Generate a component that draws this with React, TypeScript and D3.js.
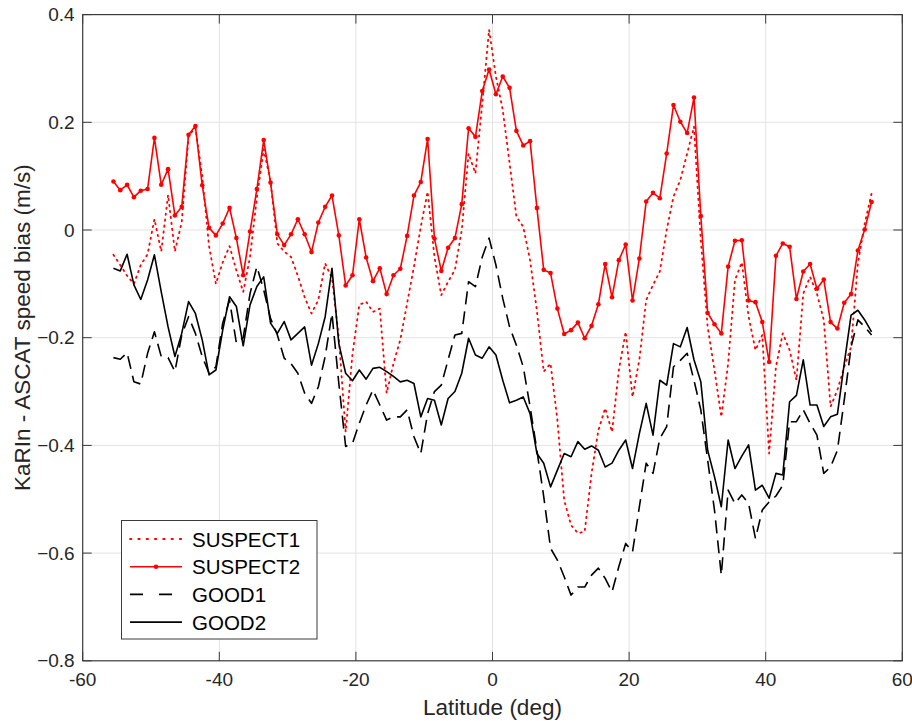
import React from 'react'
import * as d3 from 'd3'

// latitude bins (deg)
const lat = [
  -55.5, -54.5, -53.5, -52.5, -51.5, -50.5, -49.5, -48.5, -47.5, -46.5,
  -45.5, -44.5, -43.5, -42.5, -41.5, -40.5, -39.5, -38.5, -37.5, -36.5,
  -35.5, -34.5, -33.5, -32.5, -31.5, -30.5, -29.5, -28.5, -27.5, -26.5,
  -25.5, -24.5, -23.5, -22.5, -21.5, -20.5, -19.5, -18.5, -17.5, -16.5,
  -15.5, -14.5, -13.5, -12.5, -11.5, -10.5, -9.5, -8.5, -7.5, -6.5,
  -5.5, -4.5, -3.5, -2.5, -1.5, -0.5, 0.5, 1.5, 2.5, 3.5,
  4.5, 5.5, 6.5, 7.5, 8.5, 9.5, 10.5, 11.5, 12.5, 13.5,
  14.5, 15.5, 16.5, 17.5, 18.5, 19.5, 20.5, 21.5, 22.5, 23.5,
  24.5, 25.5, 26.5, 27.5, 28.5, 29.5, 30.5, 31.5, 32.5, 33.5,
  34.5, 35.5, 36.5, 37.5, 38.5, 39.5, 40.5, 41.5, 42.5, 43.5,
  44.5, 45.5, 46.5, 47.5, 48.5, 49.5, 50.5, 51.5, 52.5, 53.5,
  54.5, 55.5
]

const suspect1 = [
  -0.046, -0.065, -0.085, -0.1, -0.065, -0.045, 0.02, -0.04, 0.065, -0.04,
  0.015, 0.175, 0.19, 0.1, -0.03, -0.1, -0.06, -0.03, -0.075, -0.115,
  -0.05, 0.06, 0.15, 0.09, -0.025, -0.04, -0.05, -0.085, -0.125, -0.155,
  -0.13, -0.062, -0.09, -0.2, -0.375, -0.23, -0.139, -0.133, -0.152, -0.146,
  -0.303, -0.248, -0.204, -0.136, -0.068, 0.006, 0.071, -0.05, -0.121, -0.096,
  -0.074, 0.0, 0.142, 0.105, 0.235, 0.372, 0.285, 0.223, 0.124, 0.025,
  0.006, -0.056, -0.15, -0.263, -0.248, -0.353, -0.502, -0.548, -0.563, -0.56,
  -0.452, -0.372, -0.331, -0.375, -0.26, -0.189, -0.31, -0.241, -0.13, -0.102,
  -0.077, 0.0, 0.062, 0.093, 0.142, 0.192, -0.019, -0.18, -0.26, -0.347,
  -0.248, -0.093, -0.06, -0.161, -0.223, -0.195, -0.415, -0.254, -0.192, -0.223,
  -0.279, -0.118, -0.087, -0.118, -0.167, -0.328, -0.297, -0.254, -0.217, -0.062,
  0.012, 0.068
]

const suspect2 = [
  0.09, 0.074, 0.084, 0.061, 0.073, 0.076, 0.171, 0.084, 0.113, 0.027,
  0.043, 0.177, 0.193, 0.083, 0.004, -0.01, 0.012, 0.041, -0.015, -0.084,
  -0.003, 0.076, 0.167, 0.088, -0.008, -0.028, -0.008, 0.02, -0.008, -0.041,
  0.014, 0.043, 0.064, -0.01, -0.103, -0.084, 0.02, -0.051, -0.095, -0.071,
  -0.119, -0.084, -0.072, -0.011, 0.064, 0.089, 0.169, -0.016, -0.076, -0.033,
  -0.015, 0.048, 0.189, 0.173, 0.258, 0.298, 0.252, 0.285, 0.264, 0.184,
  0.157, 0.165, 0.041, -0.074, -0.08, -0.146, -0.193, -0.186, -0.172, -0.201,
  -0.178, -0.138, -0.063, -0.125, -0.056, -0.027, -0.131, -0.053, 0.053, 0.069,
  0.059, 0.142, 0.232, 0.201, 0.18, 0.246, 0.026, -0.154, -0.175, -0.192,
  -0.068, -0.02, -0.019, -0.131, -0.134, -0.171, -0.245, -0.048, -0.025, -0.031,
  -0.128, -0.077, -0.063, -0.109, -0.092, -0.171, -0.183, -0.135, -0.119, -0.038,
  0.001, 0.052
]

const good1 = [
  -0.237, -0.24, -0.228, -0.282, -0.286, -0.229, -0.189, -0.235, -0.237, -0.263,
  -0.195, -0.161, -0.192, -0.235, -0.266, -0.254, -0.173, -0.13, -0.21, -0.2,
  -0.118, -0.068, -0.111, -0.164, -0.195, -0.238, -0.248, -0.266, -0.303, -0.322,
  -0.291, -0.235, -0.155, -0.285, -0.402, -0.396, -0.359, -0.325, -0.297, -0.325,
  -0.353, -0.347, -0.347, -0.334, -0.384, -0.415, -0.341, -0.3, -0.288, -0.241,
  -0.195, -0.192, -0.096, -0.105, -0.05, -0.015, -0.065, -0.127, -0.18, -0.214,
  -0.254, -0.328, -0.409, -0.495, -0.591, -0.613, -0.644, -0.678, -0.663, -0.663,
  -0.641, -0.628, -0.647, -0.672, -0.625, -0.582, -0.598, -0.514, -0.433, -0.452,
  -0.387, -0.365, -0.254, -0.242, -0.229, -0.279, -0.334, -0.427, -0.52, -0.641,
  -0.483, -0.508, -0.492, -0.508, -0.573, -0.52, -0.505, -0.494, -0.474, -0.356,
  -0.356, -0.334, -0.359, -0.381, -0.452, -0.44, -0.409, -0.316, -0.217, -0.167,
  -0.18, -0.195
]

const good2 = [
  -0.071, -0.076, -0.045, -0.102, -0.129, -0.093, -0.046, -0.115, -0.18, -0.235,
  -0.192, -0.133, -0.155, -0.204, -0.269, -0.26, -0.186, -0.124, -0.142, -0.215,
  -0.139, -0.105, -0.087, -0.173, -0.192, -0.17, -0.204, -0.192, -0.18, -0.251,
  -0.211, -0.161, -0.071, -0.211, -0.266, -0.28, -0.26, -0.277, -0.257, -0.255,
  -0.263, -0.272, -0.282, -0.279, -0.285, -0.347, -0.313, -0.316, -0.362, -0.313,
  -0.3, -0.266, -0.201, -0.232, -0.238, -0.217, -0.232, -0.279, -0.321, -0.316,
  -0.31, -0.341, -0.415, -0.433, -0.477, -0.446, -0.415, -0.421, -0.393, -0.407,
  -0.401, -0.409, -0.44, -0.433, -0.409, -0.39, -0.443, -0.378, -0.322, -0.381,
  -0.279, -0.288, -0.211, -0.217, -0.181, -0.241, -0.282, -0.409, -0.458, -0.514,
  -0.39, -0.443, -0.42, -0.399, -0.483, -0.474, -0.498, -0.452, -0.455, -0.319,
  -0.307, -0.241, -0.325, -0.325, -0.365, -0.347, -0.342, -0.248, -0.158, -0.149,
  -0.167, -0.189
]

const xTicks = [-60, -40, -20, 0, 20, 40, 60]
const yTicks = [-0.8, -0.6, -0.4, -0.2, 0, 0.2, 0.4]
const legendNames = ['SUSPECT1', 'SUSPECT2', 'GOOD1', 'GOOD2']

const W = 912
const H = 721
const left = 82.7
const right = 902.3
const top = 14.6
const bottom = 660.8
const font = '"Liberation Sans", Arial, Helvetica, sans-serif'
const axisColor = '#3a3a3a'

export default function App() {
  const x = d3.scaleLinear().domain([-60, 60]).range([left, right])
  const y = d3.scaleLinear().domain([-0.8, 0.4]).range([bottom, top])

  const line = (vals: number[]) =>
    d3
      .line<number>()
      .x((d, i) => x(lat[i]))
      .y(d => y(d))(vals) || ''

  const styles = [
    { stroke: 'red', dash: '1.4,4.6', cap: 'round', w: 1.8 },
    { stroke: 'red', dash: '', cap: 'butt', w: 1.6 },
    { stroke: 'black', dash: '13,7', cap: 'butt', w: 1.6 },
    { stroke: 'black', dash: '', cap: 'butt', w: 1.6 }
  ]
  const series = [suspect1, suspect2, good1, good2]

  const lg = { x: 121.5, y: 520.5, w: 195.5, h: 118.5 }
  const tick = 9

  return (
    <svg
      width={W}
      height={H}
      style={{ position: 'absolute', left: 0, top: 0, background: 'white' }}
      fontFamily={font}
    >
      <rect x={0} y={0} width={W} height={H} fill="white" />
      {/* grid */}
      {xTicks.slice(1, -1).map(t => (
        <line key={'gx' + t} x1={x(t)} x2={x(t)} y1={top} y2={bottom} stroke="#e3e3e3" strokeWidth={1} />
      ))}
      {yTicks.slice(1, -1).map(t => (
        <line key={'gy' + t} x1={left} x2={right} y1={y(t)} y2={y(t)} stroke="#e3e3e3" strokeWidth={1} />
      ))}

      {/* data */}
      {series.map((s, k) => (
        <path
          key={'s' + k}
          d={line(s)}
          fill="none"
          stroke={styles[k].stroke}
          strokeWidth={styles[k].w}
          strokeDasharray={styles[k].dash || undefined}
          strokeLinecap={styles[k].cap as any}
          strokeLinejoin="round"
        />
      ))}
      {suspect2.map((v, i) => (
        <circle key={'m' + i} cx={x(lat[i])} cy={y(v)} r={2.3} fill="red" />
      ))}

      {/* box + ticks */}
      <rect x={left} y={top} width={right - left} height={bottom - top} fill="none" stroke={axisColor} strokeWidth={1.2} />
      {xTicks.map(t => (
        <g key={'tx' + t}>
          <line x1={x(t)} x2={x(t)} y1={bottom} y2={bottom - tick} stroke={axisColor} />
          <line x1={x(t)} x2={x(t)} y1={top} y2={top + tick} stroke={axisColor} />
          <text x={x(t)} y={bottom + 25} textAnchor="middle" fontSize={19} fill="#262626">
            {t}
          </text>
        </g>
      ))}
      {yTicks.map(t => (
        <g key={'ty' + t}>
          <line x1={left} x2={left + tick} y1={y(t)} y2={y(t)} stroke={axisColor} />
          <line x1={right} x2={right - tick} y1={y(t)} y2={y(t)} stroke={axisColor} />
          <text x={left - 8} y={y(t) + 6.5} textAnchor="end" fontSize={19} fill="#262626">
            {t === 0 ? '0' : d3.format('.1f')(t)}
          </text>
        </g>
      ))}

      {/* axis labels */}
      <text x={(left + right) / 2} y={715} textAnchor="middle" fontSize={22.5} fill="#262626">
        Latitude (deg)
      </text>
      <text
        transform={`translate(30,${(top + bottom) / 2 - 10}) rotate(-90)`}
        textAnchor="middle"
        fontSize={22.5}
        fill="#262626"
      >
        KaRIn - ASCAT speed bias (m/s)
      </text>

      {/* legend */}
      <rect x={lg.x} y={lg.y} width={lg.w} height={lg.h} fill="white" stroke={axisColor} strokeWidth={1} />
      {legendNames.map((n, k) => {
        const ly = 539 + k * 27.7
        return (
          <g key={'lg' + k}>
            <line
              x1={130}
              x2={182}
              y1={ly}
              y2={ly}
              stroke={styles[k].stroke}
              strokeWidth={styles[k].w}
              strokeDasharray={k === 0 ? '1.4,6.9' : k === 2 ? '13,16' : undefined}
              strokeLinecap={styles[k].cap as any}
            />
            {k === 1 && <circle cx={156} cy={ly} r={2.3} fill="red" />}
            <text x={192} y={ly + 7.5} fontSize={20.5} fill="black">
              {n}
            </text>
          </g>
        )
      })}
    </svg>
  )
}
